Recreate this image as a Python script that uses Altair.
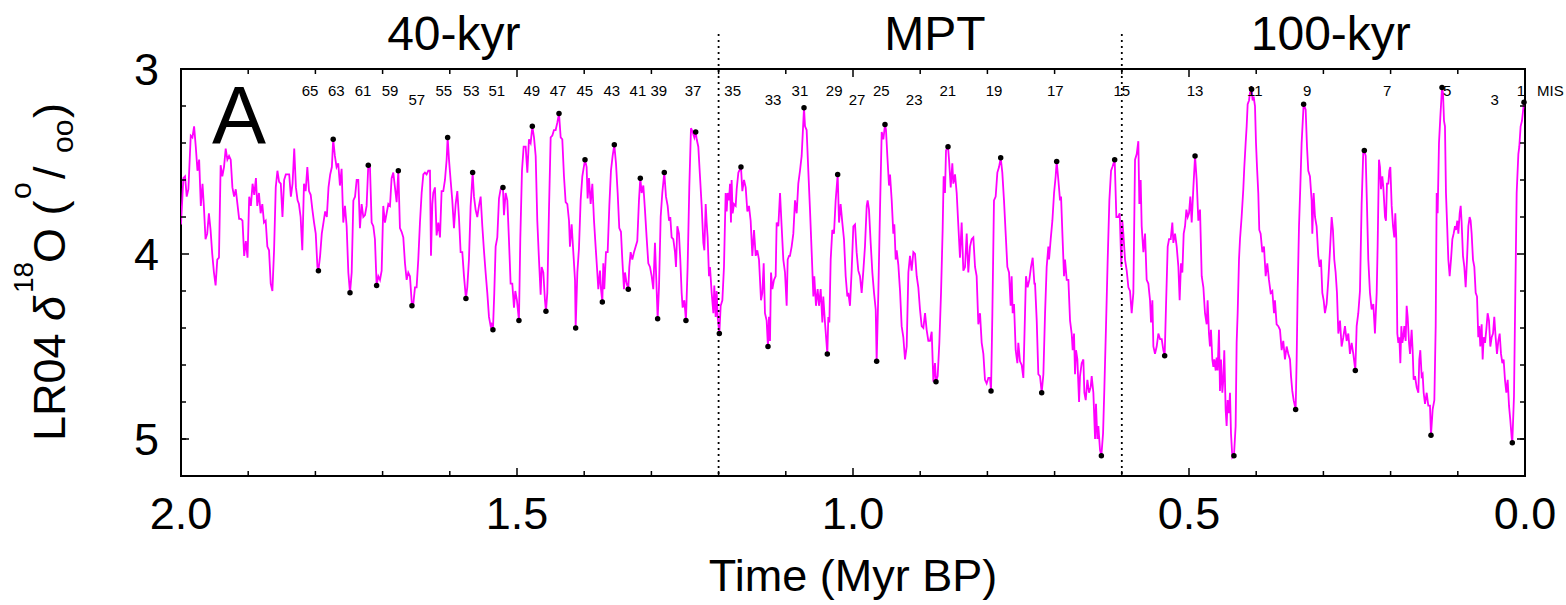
import altair as alt
import pandas as pd

# ---------------- data ----------------
# LR04 benthic d18O stack, age in kyr BP (descending) and d18O (permil)
AGE_KYR = [
    2000, 1996.5, 1994, 1991.5, 1989, 1985.5, 1983, 1980.5, 1978, 1975.5,
    1973, 1970.5, 1968, 1966, 1963.5, 1961, 1958.5, 1956, 1953.5, 1951,
    1948.5, 1946, 1943.5, 1941, 1938.5, 1936, 1933.5, 1931, 1928.5, 1926,
    1923.5, 1921, 1918.5, 1916, 1913.5, 1911, 1908.5, 1906, 1903.5, 1901,
    1898.5, 1896, 1893.5, 1891, 1888.5, 1886.5, 1884, 1881.5, 1879, 1876.5,
    1874, 1871.5, 1869, 1866.5, 1864, 1861.5, 1859, 1856.5, 1854, 1851.5,
    1849, 1846.5, 1844, 1841.5, 1839, 1836.5, 1834, 1831.5, 1829, 1826.5,
    1824.5, 1822, 1819.5, 1817, 1814.5, 1812, 1809.5, 1807, 1804.5, 1802,
    1799.5, 1797, 1795.5, 1793, 1790.5, 1788, 1785.5, 1783, 1780.5, 1778,
    1775.5, 1773.5, 1771, 1768.5, 1766, 1763.5, 1761, 1758.5, 1756, 1753.5,
    1751, 1748.5, 1746, 1743.5, 1741,
    1738.6, 1736.2, 1733.7, 1731.2, 1728.7, 1726.2, 1723.8, 1721.3, 1718.8, 1716.3,
    1713.8, 1711.4, 1708.9, 1706.4, 1703.9, 1701.4, 1699.0, 1696.5, 1694.0, 1691.5,
    1689.0, 1686.6, 1684.1, 1681.6, 1679.1, 1676.6, 1674.2, 1671.7, 1669.2, 1666.7,
    1664.2, 1661.8, 1659.3, 1656.3, 1654.3, 1651.8, 1649.4, 1646.9, 1644.4, 1641.9,
    1639.4, 1637.0, 1634.5, 1632.0, 1629.5, 1628.0, 1626.0, 1624.6, 1622.1, 1619.6,
    1617.1, 1614.6, 1612.2, 1609.7, 1607.2, 1604.7, 1603.2, 1601.2, 1598.8, 1596.3,
    1593.8, 1591.3, 1588.8, 1586.4, 1583.9, 1581.4, 1578.9, 1576.0, 1574.0, 1571.5,
    1569.0, 1566.0, 1564.0, 1561.6, 1559.1, 1556.6, 1554.1, 1551.6, 1549.2, 1546.7,
    1544.2, 1541.7, 1539.2, 1537.8, 1535.8, 1533.8, 1531.8, 1529.3, 1526.8, 1524.4,
    1520.9, 1519.4, 1516.9, 1514.4, 1512.0, 1509.5, 1507.0, 1504.5, 1502.5, 1500.1,
    1497.1, 1495.1, 1492.6, 1490.1,
    1487.1, 1484.6, 1482.2, 1479.7, 1477.2, 1474.7, 1472.2, 1469.8, 1467.3, 1464.8,
    1463.3, 1460.8, 1458.4, 1456.9, 1454.9, 1452.4, 1449.9, 1447.4, 1445.0, 1442.5,
    1440.0, 1437.5, 1435.0, 1432.6, 1430.1, 1427.6, 1425.1, 1422.6, 1421.2, 1418.7,
    1416.2, 1413.7, 1412.7, 1410.2, 1407.8, 1405.3, 1402.8, 1398.8, 1396.4, 1394.9,
    1392.9, 1390.4, 1387.9, 1385.4, 1383.0, 1380.5, 1379.0, 1376.5, 1375.0, 1373.0,
    1371.6, 1370.1, 1367.6, 1365.1, 1362.6, 1360.2, 1357.7, 1355.2, 1352.7, 1350.2,
    1347.8, 1345.3, 1343.3, 1340.8, 1339.3, 1336.8, 1334.4, 1332.9, 1330.9, 1328.4,
    1325.9, 1323.4, 1321.0, 1318.5, 1316.5, 1314.5, 1312.0, 1309.6, 1307.1, 1304.6,
    1302.1, 1299.6, 1297.2, 1294.7, 1292.7, 1290.7, 1288.7, 1286.2, 1283.8, 1280.8,
    1278.3, 1275.8, 1273.8, 1271.9, 1269.9, 1267.4, 1264.9, 1263.4, 1261.4, 1259.0,
    1257.0, 1255.0, 1253.5, 1251.0, 1248.6, 1246.1, 1243.6, 1241.1, 1238.6, 1236.1,
    1234.1, 1232.6, 1230.2, 1227.7, 1225.2, 1222.7, 1221.2, 1219.2, 1217.8, 1216.3,
    1214.3, 1212.8, 1210.3, 1207.8, 1206.4, 1204.4, 1202.9, 1201.4, 1198.9, 1196.9,
    1194.4, 1192.0, 1189.5, 1188.0, 1186.5, 1184.5, 1183.0, 1181.6, 1180.6, 1179.1,
    1177.1, 1174.6, 1173.1, 1170.6, 1166.7, 1164.7, 1162.2, 1159.7, 1157.2, 1154.8,
    1152.3, 1149.8, 1147.3, 1144.8, 1142.4, 1139.9, 1136.9, 1134.9, 1132.9, 1131.0,
    1128.5, 1127.0, 1126.5, 1125.0, 1123.5, 1122.0, 1120.0, 1117.6, 1115.1, 1113.6,
    1111.1, 1108.6, 1106.2, 1103.7, 1101.2, 1098.7, 1097.2, 1095.2, 1093.8, 1091.3,
    1088.8, 1086.3, 1083.8, 1081.4, 1078.9, 1076.4, 1072.9, 1071.4, 1069.0, 1066.5,
    1064.0, 1061.5, 1059.0, 1057.6, 1055.1, 1052.6, 1050.6, 1048.1, 1045.6, 1044.2,
    1041.7, 1038.2, 1036.7, 1035.2, 1033.2, 1030.8, 1028.3, 1025.8, 1022.8, 1020.8,
    1018.4, 1015.9, 1013.4, 1010.9, 1008.4, 1006.9, 1004.5, 1002.0, 999.5, 997.0,
    994.6, 992.1, 989.6, 987.1, 984.6, 982.2,
    979.6, 978.2, 976.2, 973.7, 971.2, 968.7, 966.2, 964.8, 962.3, 959.8,
    957.3, 954.8, 952.4, 950.9, 948.9, 946.4, 944.9, 942.4, 940.0, 938.5,
    936.5, 935.0, 932.5, 930.0, 927.6, 925.1, 922.6, 920.1, 917.6, 915.2,
    912.7, 910.2, 907.7, 905.2, 902.8, 900.3, 897.8, 895.3, 892.8, 890.4,
    887.9, 885.4, 882.9, 880.4, 878.0, 876.5, 874.0, 871.5, 869.0, 866.6,
    865.1, 863.1, 861.6, 858.6, 857.1, 854.6, 852.2, 850.7, 848.2, 845.7,
    843.2, 840.8, 838.3, 835.8, 833.3, 830.8, 828.4, 825.9, 823.4, 820.9,
    818.4, 816.0, 813.5, 811.0, 808.5, 806.0, 803.6, 801.1, 798.6, 796.1,
    794.6, 792.6, 790.2, 787.7, 785.2, 782.7, 780.2, 777.8, 775.3, 772.8,
    770.3, 767.8, 765.4, 763.9, 762.4, 760.4, 757.9, 755.4, 754.0, 751.5,
    749.0, 746.5, 744.0, 742.6, 740.1, 737.6, 735.1, 732.6, 730.1,
    729.1, 726.6, 724.2, 721.7, 719.2, 716.7, 714.2, 711.8, 709.3, 708.3,
    705.8, 703.3, 700.8, 698.4, 696.9, 694.4, 691.9, 690.4, 688.4, 686.0,
    684.5, 682.0, 679.5, 677.0, 674.6, 673.1, 671.1, 669.6, 668.1, 666.1,
    663.6, 662.2, 659.7, 657.2, 655.7, 653.7, 651.2, 648.8, 646.3, 644.8,
    642.3, 639.8, 638.4, 636.4, 634.9, 632.4, 630.4, 627.9, 625.9, 623.5,
    621.0, 618.5, 616.0, 614.0, 610.6, 608.1, 605.6, 603.1, 600.7, 599.2,
    597.7, 595.2, 592.7, 590.2, 587.8, 585.3, 582.8, 580.3, 577.8, 575.4,
    573.9, 571.9, 570.4, 567.9, 565.4, 563.0, 560.5, 558.0, 556.5, 554.5,
    553.0, 550.6, 548.1, 545.6, 543.1, 540.6, 538.2, 536.2, 534.2, 531.7,
    529.7, 527.2, 524.8, 523.3, 520.8, 518.3, 515.8, 513.9, 511.9, 509.9,
    507.9, 505.9, 503.9, 501.9, 500.0, 498.0, 496.0, 493.5, 491.0, 488.6,
    486.1, 483.6, 481.1, 478.6, 476.2,
    473.7, 472.3, 470.3, 468.8, 467.3, 465.3, 463.8, 462.3, 460.3, 458.9,
    457.4, 455.4, 453.9, 452.4, 450.4, 448.9, 447.5, 445.5, 444.0, 442.5,
    440.5, 439.0, 437.5, 435.5, 433.1, 430.6, 429.1, 427.6, 425.6, 424.1,
    421.7, 419.2, 417.7, 415.7, 414.2, 412.7, 410.7, 409.3, 406.8, 405.3,
    403.8, 401.8, 400.3, 398.8, 396.9, 395.4, 393.4, 390.9, 388.4, 385.9,
    383.5, 381.0, 378.5, 376.0, 373.5, 372.1, 369.6, 367.1, 364.6, 362.1,
    359.7, 357.2, 354.7, 352.2, 349.7, 348.2, 346.3, 344.3, 341.3, 339.8,
    338.3, 336.3, 334.4, 332.4, 329.4, 326.4, 324.4, 322.5, 320.0, 317.5,
    316.5, 314.5, 312.5, 310.1, 307.6, 305.6, 303.6, 301.6, 299.6, 297.7,
    295.2, 292.7, 290.2, 287.7, 285.8, 283.8, 281.8, 279.8, 277.8, 275.3,
    272.9, 270.4, 267.9, 265.4, 262.9, 260.5, 258.0, 255.5, 252.5, 250.5,
    248.1, 245.6, 243.1, 240.6, 239.1, 237.1, 235.2, 233.2, 230.7, 228.2,
    225.7, 223.3,
    220.7, 219.3, 217.3, 215.8, 214.3, 212.3, 210.8, 208.3, 206.9, 205.4,
    203.4, 201.9, 200.4, 198.4, 196.4, 194.5, 193.0, 191.5, 190.0, 188.5,
    187.0, 185.5, 184.0, 182.5, 181.1, 179.6, 177.6, 176.1, 174.6, 172.6,
    171.1, 168.7, 167.2, 165.7, 163.7, 161.2, 158.7, 157.3, 155.8, 153.8,
    152.3, 150.8, 148.8, 146.3, 143.9, 141.4, 139.9, 137.4, 134.9, 132.9,
    131.4, 130.0, 128.0, 126.0, 123.5, 122.0, 120.5, 119.1, 117.6, 115.6,
    114.1, 112.1, 110.1, 108.1, 106.2, 104.2, 102.7, 100.7, 99.2, 97.2,
    95.7, 94.3, 92.3, 90.3, 88.3, 86.3, 84.3, 82.4, 80.9, 79.4,
    77.4, 75.4, 73.4, 71.4, 69.5, 68.0, 66.5, 64.5, 63.0, 61.5,
    59.5, 57.6, 55.6, 53.6, 51.6, 49.6, 47.6, 45.7, 43.7, 41.7,
    39.7, 37.7, 35.7, 33.7, 31.8, 29.8, 27.8, 25.8, 23.8, 21.8,
    19.9, 18.9, 16.4, 14.4, 12.4, 9.9, 8.5, 6.5, 4.5, 1.5,
]

D18O = [
    3.84, 3.59, 3.58, 3.69, 3.65, 3.36, 3.37, 3.31, 3.42, 3.55,
    3.49, 3.74, 3.62, 3.74, 3.92, 3.89, 3.78, 3.87, 4.00, 4.10,
    4.17, 4.03, 4.02, 3.52, 3.58, 3.53, 3.43, 3.49, 3.47, 3.49,
    3.64, 3.69, 3.65, 3.73, 3.81, 3.81, 3.82, 4.01, 3.93, 4.02,
    3.69, 3.74, 3.62, 3.68, 3.59, 3.74, 3.67, 3.78, 3.73, 3.83,
    3.82, 3.96, 3.98, 4.16, 4.20, 3.98, 3.64, 3.55, 3.61, 3.62,
    3.80, 3.60, 3.57, 3.57, 3.57, 3.69, 3.62, 3.43, 3.64, 3.71,
    3.73, 3.80, 3.98, 3.62, 3.66, 3.53, 3.66, 3.68, 3.76, 3.83,
    3.89, 4.07, 4.09, 4.01, 3.89, 3.83, 3.77, 3.80, 3.64, 3.57,
    3.53, 3.38, 3.47, 3.53, 3.51, 3.63, 3.54, 3.83, 3.74, 3.85,
    4.10, 4.21, 4.10, 3.71, 3.69,
    3.60, 3.60, 3.86, 3.73, 3.80, 3.79, 3.74, 3.52, 3.53, 3.83,
    3.85, 3.92, 4.17, 4.12, 4.14, 4.09, 3.74, 3.83, 3.78, 3.73,
    3.74, 3.59, 3.56, 3.64, 3.72, 3.55, 3.86, 3.88, 3.91, 4.05,
    4.14, 4.10, 4.12, 4.28, 4.27, 4.18, 4.18, 4.03, 3.83, 3.67,
    3.57, 3.56, 3.57, 3.55, 3.55, 4.01, 3.73, 3.67, 3.64, 3.90,
    3.83, 3.91, 3.66, 3.66, 3.60, 3.49, 3.37, 3.49, 3.60, 3.71,
    3.86, 3.73, 3.66, 3.80, 3.99, 3.99, 4.12, 4.24, 4.18, 4.03,
    3.74, 3.56, 3.69, 3.76, 3.80, 3.74, 3.69, 3.85, 3.98, 4.10,
    4.21, 4.34, 4.39, 4.38, 4.41, 4.21, 3.96, 3.91, 3.70, 3.65,
    3.64, 3.79, 3.67, 3.71, 3.92, 4.16, 4.16, 4.29, 4.20, 4.25,
    4.36, 3.92, 3.55, 3.42,
    3.42, 3.56, 3.38, 3.40, 3.31, 3.37, 3.47, 3.82, 4.03, 4.22,
    4.07, 4.10, 4.25, 4.31, 4.21, 3.76, 3.37, 3.36, 3.33, 3.33,
    3.29, 3.24, 3.37, 3.38, 3.58, 3.72, 3.73, 3.82, 3.96, 3.84,
    3.99, 4.14, 4.40, 4.10, 3.97, 3.71, 3.58, 3.49, 3.53, 3.70,
    3.59, 3.73, 3.62, 3.82, 3.96, 4.10, 4.19, 4.09, 4.19, 4.26,
    4.05, 4.19, 3.99, 3.99, 3.74, 3.55, 3.47, 3.41, 3.51, 3.67,
    3.86, 3.88, 4.03, 4.19, 4.10, 4.16, 4.19, 4.07, 3.99, 4.03,
    3.99, 3.96, 3.93, 3.71, 3.59, 3.67, 3.63, 3.76, 3.91, 4.05,
    4.07, 4.12, 4.19, 3.94, 4.14, 4.35, 4.18, 3.80, 3.67, 3.56,
    3.69, 3.74, 3.82, 3.80, 3.91, 3.92, 3.99, 4.07, 3.85, 3.89,
    4.03, 4.21, 4.29, 4.25, 4.36, 4.07, 3.64, 3.32, 3.34, 3.37,
    3.34, 3.38, 3.42, 3.58, 3.74, 3.94, 3.98, 3.73, 3.83, 3.91,
    4.12, 4.07, 4.21, 4.32, 4.17, 4.34, 4.20, 4.34, 4.43, 4.28,
    4.25, 4.07, 3.67, 3.77, 3.67, 3.71, 3.62, 3.83, 3.60, 3.78,
    3.73, 3.74, 3.65, 3.56, 3.53, 3.66, 3.60, 3.64, 3.77, 3.74,
    3.82, 4.01, 3.87, 4.01, 3.98, 4.03, 4.25, 4.21, 4.05, 4.32,
    4.36, 4.47, 4.50, 4.34, 4.47, 4.10, 4.19, 4.14, 4.12, 3.83,
    3.85, 3.67, 3.85, 4.03, 4.10, 4.28, 4.03, 4.01, 4.01, 3.96,
    3.89, 3.71, 3.78, 3.62, 3.55, 3.47, 3.21, 3.31, 3.33, 3.55,
    3.76, 3.99, 4.23, 4.12, 4.28, 4.19, 4.28, 4.19, 4.37, 4.23,
    4.37, 4.54, 4.34, 4.37, 4.03, 3.87, 3.89, 3.71, 3.57, 3.83,
    3.73, 3.83, 3.92, 4.12, 4.23, 4.21, 4.28, 4.09, 3.85, 3.84,
    3.99, 4.09, 4.12, 4.21, 4.09, 3.96,
    3.74, 3.71, 3.76, 3.94, 4.10, 4.21, 4.30, 4.58, 4.21, 3.76,
    3.34, 3.38, 3.30, 3.33, 3.47, 3.63, 3.57, 3.71, 3.89, 3.84,
    4.03, 3.98, 4.06, 4.20, 4.39, 4.45, 4.57, 4.50, 4.10, 4.01,
    4.09, 3.99, 4.00, 4.12, 4.18, 4.30, 4.39, 4.40, 4.32, 4.41,
    4.47, 4.47, 4.42, 4.69, 4.59, 4.69, 4.66, 4.48, 4.21, 3.87,
    3.58, 3.67, 3.44, 3.42, 3.49, 3.64, 3.51, 3.62, 3.57, 3.67,
    3.85, 4.02, 3.83, 4.09, 4.07, 3.89, 4.10, 3.96, 3.92, 3.91,
    4.07, 4.12, 4.38, 4.32, 4.48, 4.54, 4.68, 4.70, 4.67, 4.67,
    4.74, 4.32, 3.71, 3.69, 3.56, 3.53, 3.48, 3.56, 3.71, 3.89,
    4.07, 4.10, 4.28, 4.12, 4.32, 4.27, 4.52, 4.59, 4.48, 4.58,
    4.60, 4.67, 4.32, 4.12, 4.18, 4.14, 4.07, 4.02, 4.16,
    4.16, 4.36, 4.65, 4.66, 4.75, 4.65, 4.32, 4.07, 3.96, 4.03,
    3.92, 3.82, 3.67, 3.58, 3.50, 3.60, 3.71, 3.69, 3.89, 4.12,
    4.03, 4.14, 4.14, 4.36, 4.43, 4.52, 4.43, 4.65, 4.52, 4.57,
    4.80, 4.66, 4.59, 4.57, 4.75, 4.79, 4.68, 4.75, 4.72, 4.66,
    4.75, 5.00, 4.81, 5.00, 4.93, 5.06, 5.09, 4.97, 4.72, 4.39,
    4.03, 3.71, 3.55, 3.53, 3.49, 3.80, 3.80, 3.78, 4.07, 3.82,
    3.89, 4.03, 4.09, 4.18, 4.20, 4.32, 4.21, 3.49, 3.46, 3.39,
    3.73, 3.60, 3.85, 3.99, 3.89, 4.14, 4.16, 4.25, 4.37, 4.25,
    4.50, 4.54, 4.50, 4.43, 4.46, 4.46, 4.52, 4.55, 4.28, 3.96,
    3.92, 3.92, 3.83, 3.94, 3.89, 3.96, 4.07, 4.25, 4.05, 4.10,
    3.89, 3.85, 3.76, 3.80, 3.78, 3.69, 3.83, 3.64, 3.47, 3.60,
    3.82, 3.76, 4.12, 4.18, 4.32,
    4.38, 4.25, 4.43, 4.50, 4.41, 4.57, 4.61, 4.57, 4.63, 4.56,
    4.63, 4.41, 4.74, 4.57, 4.75, 4.68, 4.52, 4.84, 4.93, 4.79,
    4.86, 4.75, 4.97, 5.10, 5.09, 4.93, 4.48, 4.32, 4.03, 3.92,
    3.80, 3.65, 3.53, 3.40, 3.31, 3.19, 3.17, 3.13, 3.11, 3.17,
    3.15, 3.20, 3.40, 3.53, 3.67, 3.87, 3.89, 3.99, 3.96, 4.12,
    4.05, 4.14, 4.21, 4.20, 4.32, 4.25, 4.38, 4.39, 4.41, 4.52,
    4.47, 4.57, 4.50, 4.54, 4.57, 4.66, 4.74, 4.79, 4.84, 4.57,
    4.20, 3.85, 3.64, 3.40, 3.19, 3.22, 3.42, 3.55, 3.58, 3.71,
    3.89, 3.67, 3.80, 3.85, 4.01, 4.07, 4.03, 4.21, 4.25, 4.32,
    4.27, 4.14, 3.98, 3.80, 3.87, 4.03, 4.10, 4.21, 4.43, 4.36,
    4.50, 4.45, 4.39, 4.47, 4.43, 4.54, 4.48, 4.54, 4.63, 4.39,
    4.32, 4.20, 3.73, 3.44, 3.44, 3.47, 3.73, 4.03, 4.21, 4.30,
    4.27, 4.43,
    4.21, 3.96, 3.49, 3.53, 3.65, 3.58, 3.64, 3.80, 3.82, 3.62,
    3.62, 3.55, 3.53, 3.74, 3.85, 3.91, 3.78, 3.92, 4.43, 4.48,
    4.45, 4.59, 4.39, 4.48, 4.45, 4.39, 4.47, 4.28, 4.34, 4.48,
    4.54, 4.41, 4.52, 4.68, 4.66, 4.72, 4.75, 4.57, 4.52, 4.66,
    4.65, 4.75, 4.81, 4.75, 4.82, 4.82, 4.98, 4.84, 4.79, 4.39,
    3.67, 3.78, 3.40, 3.26, 3.10, 3.13, 3.28, 3.31, 3.67, 3.87,
    4.03, 4.12, 4.03, 3.92, 3.89, 3.85, 3.87, 3.82, 3.89, 3.78,
    3.74, 3.83, 4.01, 4.07, 4.18, 4.03, 3.85, 3.80, 3.82, 3.89,
    4.03, 4.07, 4.21, 4.23, 4.45, 4.39, 4.50, 4.38, 4.57, 4.45,
    4.48, 4.41, 4.32, 4.36, 4.50, 4.45, 4.43, 4.34, 4.45, 4.54,
    4.47, 4.43, 4.54, 4.59, 4.57, 4.68, 4.75, 4.68, 4.82, 4.90,
    4.99, 5.02, 4.77, 4.21, 3.67, 3.46, 3.42, 3.31, 3.28, 3.18,
]
assert len(AGE_KYR) == len(D18O)

# marked glacial / interglacial extremes (black dots)
DOT_AGE_KYR = [1795.5, 1773.5, 1748.5, 1721.3, 1708.9, 1676.6, 1656.3, 1603.2, 1576.0, 1566.0,
               1535.8, 1520.9, 1497.1, 1477.2, 1456.9, 1437.5, 1412.7, 1398.8, 1373.0, 1355.2,
               1334.4, 1316.5, 1290.7, 1280.8, 1248.6, 1234.1, 1198.9, 1166.7, 1126.5, 1072.9,
               1038.2, 1022.8, 964.8, 952.4, 876.5, 858.6, 794.6, 780.2, 719.2, 696.9,
               630.4, 610.6, 536.2, 491.0, 433.1, 406.8, 341.3, 329.4, 252.5, 239.1,
               139.9, 123.5, 18.9, 1.5]
DOT_D18O = [4.09, 3.38, 4.21, 3.52, 4.17, 3.55, 4.28, 3.37, 4.24, 3.56,
            4.41, 3.64, 4.36, 3.31, 4.31, 3.24, 4.40, 3.49, 4.26, 3.41,
            4.19, 3.59, 4.35, 3.56, 4.36, 3.34, 4.43, 3.53, 4.50, 3.21,
            4.54, 3.57, 4.58, 3.30, 4.69, 3.42, 4.74, 3.48, 4.75, 3.50,
            5.09, 3.49, 4.55, 3.47, 5.09, 3.11, 4.84, 3.19, 4.63, 3.44,
            4.98, 3.10, 5.02, 3.18]

# marine isotope stage labels
MIS_TEXT = ["65", "63", "61", "59", "57", "55", "53", "51", "49", "47", "45", "43", "41", "39",
            "37", "35", "33", "31", "29", "27", "25", "23", "21", "19", "17", "15", "13", "11",
            "9", "7", "5", "3", "1"]
MIS_AGE_MYR = [1.808, 1.769, 1.729, 1.689, 1.649, 1.609, 1.568, 1.530, 1.478, 1.439, 1.399,
               1.359, 1.320, 1.289, 1.238, 1.179, 1.119, 1.079, 1.028, 0.994, 0.958, 0.909,
               0.859, 0.790, 0.699, 0.600, 0.491, 0.402, 0.324, 0.205, 0.116, 0.045, 0.006]
MIS_LOWER_ROW = ["57", "33", "27", "23", "3"]

# regimes and their boundaries
REGIME_NAMES = ["40-kyr", "MPT", "100-kyr"]
REGIME_CENTER_MYR = [1.594, 0.878, 0.289]
BOUNDARY_MYR = [1.2, 0.6]

# axes
X_LABEL_VALUES = [2.0, 1.5, 1.0, 0.5, 0.0]
X_LABEL_TEXT = ["2.0", "1.5", "1.0", "0.5", "0.0"]
Y_LABEL_VALUES = [3, 4, 5]
X_MAJOR_TICKS = [0.5, 1.0, 1.5]
X_MINOR_TICKS = [0.1, 0.2, 0.3, 0.4, 0.6, 0.7, 0.8, 0.9, 1.1, 1.2, 1.3, 1.4, 1.6, 1.7, 1.8, 1.9]
Y_MAJOR_TICKS = [4.0, 5.0]
Y_MINOR_TICKS = [3.2, 3.4, 3.6, 3.8, 4.2, 4.4, 4.6, 4.8, 5.0]

# ---------------- chart ----------------
W, H = 1344, 407
FONT = "Liberation Sans"
MAG = "#ff00ff"

xs = alt.Scale(domain=[0, 2], reverse=True, nice=False, zero=False)
ys = alt.Scale(domain=[3, 5.2], reverse=True, nice=False, zero=False)

line_df = pd.DataFrame({"t": [a / 1000 for a in AGE_KYR], "d": D18O})
dot_df = pd.DataFrame({"t": [a / 1000 for a in DOT_AGE_KYR], "d": DOT_D18O})
mis_df = pd.DataFrame({"t": MIS_AGE_MYR, "label": MIS_TEXT,
                       "row": [1 if s in MIS_LOWER_ROW else 0 for s in MIS_TEXT]})
reg_df = pd.DataFrame({"t": REGIME_CENTER_MYR, "label": REGIME_NAMES})
bnd_df = pd.DataFrame({"t": BOUNDARY_MYR})
xl_df = pd.DataFrame({"t": X_LABEL_VALUES, "label": X_LABEL_TEXT})
yl_df = pd.DataFrame({"d": Y_LABEL_VALUES, "label": [str(v) for v in Y_LABEL_VALUES]})

X = alt.X("t:Q", scale=xs, axis=None)
Y = alt.Y("d:Q", scale=ys, axis=None)

line = alt.Chart(line_df).mark_line(color=MAG, strokeWidth=1.8, clip=True).encode(
    x=X, y=Y, order="t:Q")
dots = alt.Chart(dot_df).mark_circle(color="black", size=30, opacity=1).encode(x=X, y=Y)

bounds = alt.Chart(bnd_df).mark_rule(color="black", strokeWidth=1.8, strokeDash=[2, 4]).encode(
    x=X, y=alt.value(-35), y2=alt.value(H))


def xticks(vals, length):
    df = pd.DataFrame({"t": vals})
    top = alt.Chart(df).mark_rule(color="black", strokeWidth=1.5).encode(
        x=X, y=alt.value(0), y2=alt.value(length))
    bot = alt.Chart(df).mark_rule(color="black", strokeWidth=1.5).encode(
        x=X, y=alt.value(H), y2=alt.value(H - length))
    return [top, bot]


def yticks(vals, length):
    df = pd.DataFrame({"d": vals})
    left = alt.Chart(df).mark_rule(color="black", strokeWidth=1.5).encode(
        y=Y, x=alt.value(0), x2=alt.value(length))
    right = alt.Chart(df).mark_rule(color="black", strokeWidth=1.5).encode(
        y=Y, x=alt.value(W), x2=alt.value(W - length))
    return [left, right]


ticks = xticks(X_MAJOR_TICKS, 8) + xticks(X_MINOR_TICKS, 5) + yticks(Y_MAJOR_TICKS, 8) + yticks(Y_MINOR_TICKS, 5)

mis = alt.Chart(mis_df).transform_calculate(
    py="datum.row == 1 ? 36 : 27"
).mark_text(font=FONT, fontSize=15, align="center", baseline="alphabetic", color="black").encode(
    x=X, y=alt.Y("py:Q", scale=None, axis=None), text="label:N")
mis_word = alt.Chart(pd.DataFrame({"label": ["MIS"]})).mark_text(
    font=FONT, fontSize=15, align="left", baseline="alphabetic", color="black").encode(
    x=alt.value(W + 12), y=alt.value(27), text="label:N")

regimes = alt.Chart(reg_df).mark_text(font=FONT, fontSize=48, align="center",
                                       baseline="alphabetic", color="black").encode(
    x=X, y=alt.value(-19), text="label:N")

panel = alt.Chart(pd.DataFrame({"label": ["A"]})).mark_text(
    font=FONT, fontSize=81, align="left", baseline="alphabetic", color="black").encode(
    x=alt.value(31), y=alt.value(74), text="label:N")

xlabels = alt.Chart(xl_df).mark_text(font=FONT, fontSize=45, align="center",
                                      baseline="alphabetic", color="black").encode(
    x=X, y=alt.value(H + 53), text="label:N")
ylabels = alt.Chart(yl_df).mark_text(font=FONT, fontSize=45, align="right",
                                      baseline="alphabetic", dy=16, color="black").encode(
    x=alt.value(-22), y=Y, text="label:N")
xtitle = alt.Chart(pd.DataFrame({"label": ["Time (Myr BP)"]})).mark_text(
    font=FONT, fontSize=45, align="center", baseline="alphabetic", color="black").encode(
    x=alt.value(W / 2), y=alt.value(H + 115), text="label:N")

# y-axis title built from pieces (super/subscripts, italic delta), rotated
ytitle_parts = [
    ("LR04 ", 45, "normal", -116, 372),
    ("\u03b4", 45, "italic", -116, 252),
    ("18", 28, "normal", -148, 224),
    ("O (", 45, "normal", -116, 194),
    ("o", 30, "normal", -150, 130),
    ("/", 45, "normal", -116, 110),
    ("oo", 30, "normal", -108, 84),
    (")", 45, "normal", -116, 49),
]
ytitle = []
for txt, fs, style, px, py in ytitle_parts:
    ytitle.append(
        alt.Chart(pd.DataFrame({"label": [txt]})).mark_text(
            font=FONT, fontSize=fs, fontStyle=style, angle=270, align="left",
            baseline="alphabetic", color="black").encode(
            x=alt.value(px), y=alt.value(py), text="label:N"))

chart = alt.layer(
    line, dots, bounds, *ticks, mis, mis_word, regimes, panel,
    xlabels, ylabels, xtitle, *ytitle
).properties(
    width=W, height=H,
    padding={"left": 181, "top": 69, "right": 41, "bottom": 129},
    autosize=alt.AutoSizeParams(type="none"),
).configure_view(stroke="black", strokeWidth=2)

chart.save("out.html", embed_options={"renderer": "svg", "actions": False})
